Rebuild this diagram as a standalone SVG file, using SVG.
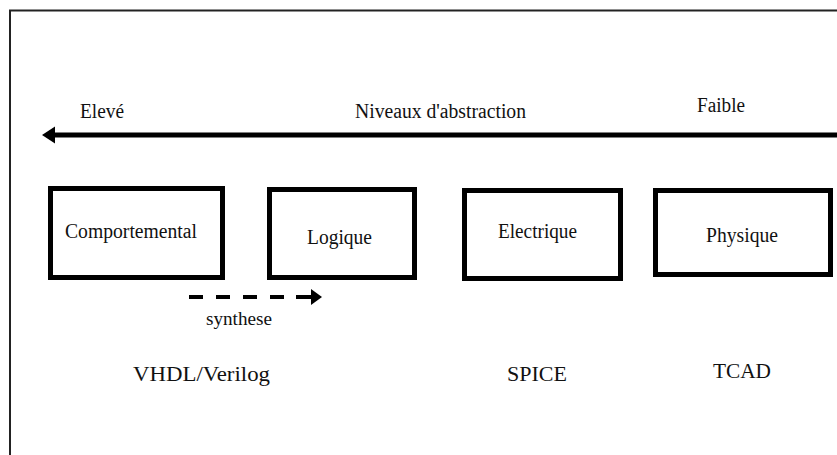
<svg xmlns="http://www.w3.org/2000/svg" width="837" height="455" viewBox="0 0 837 455">
<style>
text { fill: #111; font-family: "Liberation Serif", "Times New Roman", "DejaVu Serif", serif; }
.box { fill: #fff; stroke: #000; stroke-width: 5; }
.lbl { font-size: 20px; }
</style>
<rect width="837" height="455" fill="#fff"/>
<g id="frame">
<path d="M10,455 L10,10.5 L837,10.5" fill="none" stroke="#222" stroke-width="2"/>
</g>
<g id="connectors">
<line x1="837" y1="135" x2="54" y2="135" stroke="#000" stroke-width="5"/>
<path d="M42,135 L55,126.5 L55,143.5 Z" fill="#000"/>
<line x1="189" y1="297" x2="312" y2="297" stroke="#000" stroke-width="4" stroke-dasharray="14 13"/>
<line x1="296" y1="297" x2="313" y2="297" stroke="#000" stroke-width="4"/>
<path d="M322,297 L311,289 L311,305 Z" fill="#000"/>
</g>
<g id="axis-labels">
<text x="80" y="118" class="lbl" textLength="44" lengthAdjust="spacingAndGlyphs">Elevé</text>
<text x="355" y="118" class="lbl" textLength="171" lengthAdjust="spacingAndGlyphs">Niveaux d'abstraction</text>
<text x="697" y="112" class="lbl" textLength="48" lengthAdjust="spacingAndGlyphs">Faible</text>
</g>
<g id="comportemental">
<rect class="box" x="50.5" y="188.5" width="172" height="89"/>
<text x="65" y="238" class="lbl" textLength="132" lengthAdjust="spacingAndGlyphs">Comportemental</text>
</g>
<g id="logique">
<rect class="box" x="269.5" y="189.5" width="145" height="88"/>
<text x="307" y="244" class="lbl" textLength="65" lengthAdjust="spacingAndGlyphs">Logique</text>
</g>
<g id="electrique">
<rect class="box" x="464.5" y="190.5" width="156" height="88"/>
<text x="498" y="238" class="lbl" textLength="79" lengthAdjust="spacingAndGlyphs">Electrique</text>
</g>
<g id="physique">
<rect class="box" x="655.5" y="190.5" width="175" height="84"/>
<text x="706" y="242" class="lbl" textLength="72" lengthAdjust="spacingAndGlyphs">Physique</text>
</g>
<g id="bottom-labels">
<text x="206" y="325" font-size="19" textLength="66" lengthAdjust="spacingAndGlyphs">synthese</text>
<text x="133" y="381" class="lbl" textLength="137" lengthAdjust="spacingAndGlyphs">VHDL/Verilog</text>
<text x="507" y="381" class="lbl" textLength="60" lengthAdjust="spacingAndGlyphs">SPICE</text>
<text x="713" y="378" class="lbl" textLength="58" lengthAdjust="spacingAndGlyphs">TCAD</text>
</g>
</svg>
